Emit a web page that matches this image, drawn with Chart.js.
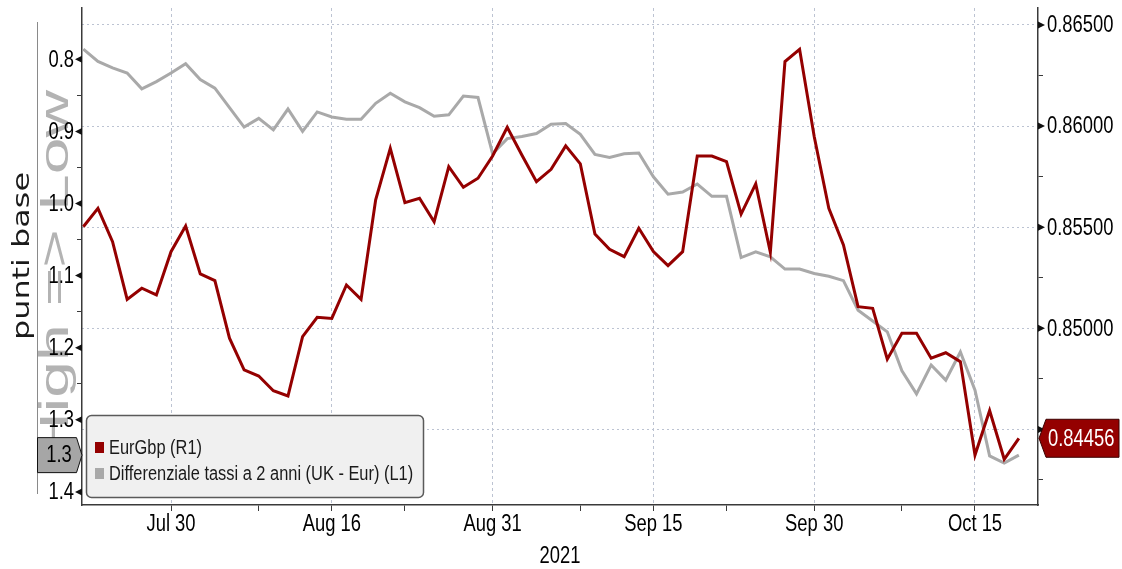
<!DOCTYPE html>
<html>
<head>
<meta charset="utf-8">
<script src="https://cdn.jsdelivr.net/npm/chart.js@4"></script>
<style>
  html, body { margin: 0; padding: 0; background: #fff; }
  #wrap { width: 1122px; height: 569px; }
</style>
</head>
<body>
<div id="wrap"><canvas id="chart" width="1122" height="569"></canvas></div>
<script>
// ── Data ─────────────────────────────────────────────────────────────────────
// business days, 22 Jul - 20 Oct 2021
const DATES = [
  "Jul 22","Jul 23","Jul 26","Jul 27","Jul 28","Jul 29","Jul 30",
  "Aug 2","Aug 3","Aug 4","Aug 5","Aug 6",
  "Aug 9","Aug 10","Aug 11","Aug 12","Aug 13",
  "Aug 16","Aug 17","Aug 18","Aug 19","Aug 20",
  "Aug 23","Aug 24","Aug 25","Aug 26","Aug 27",
  "Aug 30","Aug 31","Sep 1","Sep 2","Sep 3",
  "Sep 6","Sep 7","Sep 8","Sep 9","Sep 10",
  "Sep 13","Sep 14","Sep 15","Sep 16","Sep 17",
  "Sep 20","Sep 21","Sep 22","Sep 23","Sep 24",
  "Sep 27","Sep 28","Sep 29","Sep 30","Oct 1",
  "Oct 4","Oct 5","Oct 6","Oct 7","Oct 8",
  "Oct 11","Oct 12","Oct 13","Oct 14","Oct 15",
  "Oct 18","Oct 19","Oct 20"
];

const X_TICK_LABELS = ["Jul 30", "Aug 16", "Aug 31", "Sep 15", "Sep 30", "Oct 15"];
const X_MINOR_DAYS  = ["Aug 9", "Aug 23", "Sep 8", "Sep 22", "Oct 8"];
const YEAR_LABEL    = "2021";

// EurGbp (right axis)
const EURGBP = [
  0.85502, 0.85593, 0.85428, 0.85143, 0.85198, 0.85165, 0.85379,
  0.85506, 0.85269, 0.85236, 0.84951, 0.84794,
  0.84764, 0.84691, 0.84665, 0.84959, 0.85054,
  0.85049, 0.85214, 0.85143, 0.85635, 0.85890,
  0.85621, 0.85643, 0.85527, 0.85799, 0.85697,
  0.85742, 0.85852, 0.85994, 0.85857, 0.85725,
  0.85786, 0.85902, 0.85813, 0.85466, 0.85391,
  0.85354, 0.85495, 0.85379, 0.85310, 0.85379,
  0.85852, 0.85852, 0.85824, 0.85565, 0.85714,
  0.85376, 0.86319, 0.86380, 0.85948, 0.85593,
  0.85412, 0.85107, 0.85099, 0.84847, 0.84975,
  0.84975, 0.84852, 0.84879, 0.84835, 0.84373,
  0.84593, 0.84352, 0.84456
];

// 2y rate differential UK - Eur (left axis, inverted)
const SPREAD_2Y = [
  0.786, 0.803, 0.812, 0.819, 0.841, 0.831, 0.819,
  0.806, 0.828, 0.840, 0.867, 0.894,
  0.882, 0.898, 0.869, 0.900, 0.873,
  0.880, 0.883, 0.883, 0.861, 0.847,
  0.859, 0.867, 0.879, 0.877, 0.851,
  0.853, 0.931, 0.910, 0.907, 0.903,
  0.890, 0.889, 0.904, 0.932, 0.936,
  0.931, 0.930, 0.963, 0.987, 0.984,
  0.973, 0.990, 0.990, 1.075, 1.067,
  1.074, 1.091, 1.091, 1.097, 1.101,
  1.107, 1.148, 1.163, 1.178, 1.232,
  1.264, 1.224, 1.245, 1.206, 1.259,
  1.350, 1.360, 1.349
];

const L_TICKS = [0.8, 0.9, 1.0, 1.1, 1.2, 1.3, 1.4];
const L_MINOR = [0.85, 0.95, 1.05, 1.15, 1.25, 1.35];
const R_TICKS = [0.845, 0.850, 0.855, 0.860, 0.865];
const R_MINOR = [0.8425, 0.8475, 0.8525, 0.8575, 0.8625];

const L_TITLE   = "punti base";
const WATERMARK = "High => Low";

// ── Styles ───────────────────────────────────────────────────────────────────
const SANS = "'Liberation Sans', Arial, sans-serif";
const COLORS = {
  red:   "#940000",
  gray:  "#a9a9a9",
  grid:  "#bcc3d2",
  axis:  "#3a3a3a",
  text:  "#000000",
};

const isIn = (list, v) => list.some((t) => Math.abs(t - v) < 1e-9);
const dayIdx = (d) => DATES.indexOf(d);

// condensed text: draw normal sans squeezed horizontally
function narrowText(ctx, text, x, y, opts) {
  const o = Object.assign({ size: 23, squeeze: 0.8, align: "left", color: COLORS.text }, opts);
  ctx.save();
  ctx.font = o.size + "px " + SANS;
  ctx.fillStyle = o.color;
  ctx.textBaseline = "middle";
  ctx.textAlign = o.align;
  ctx.translate(x, y);
  ctx.scale(o.squeeze, 1);
  ctx.fillText(text, 0, 0);
  ctx.restore();
}

// rotated text stretched to a given length
function verticalText(ctx, text, cx, cy, font, color, length) {
  ctx.save();
  ctx.translate(cx, cy);
  ctx.rotate(-Math.PI / 2);
  ctx.font = font;
  ctx.fillStyle = color;
  ctx.textAlign = "center";
  ctx.textBaseline = "middle";
  ctx.scale(length / ctx.measureText(text).width, 1);
  ctx.fillText(text, 0, 0);
  ctx.restore();
}

// ── Extra drawing: labels, watermark, legend, last-value tags ───────────────
const decorations = {
  id: "decorations",
  beforeDraw(chart) {
    const ctx = chart.ctx;
    verticalText(ctx, WATERMARK, 57, 275, "40px " + SANS, "rgba(150,150,150,0.72)", 370);

    ctx.save();
    ctx.strokeStyle = "#8a8a8a";
    ctx.lineWidth = 1;
    ctx.beginPath();
    ctx.moveTo(37.5, 22);
    ctx.lineTo(37.5, 494);
    ctx.stroke();
    ctx.restore();
  },
  afterDraw(chart) {
    const ctx = chart.ctx;
    const { yL, yR, x } = chart.scales;
    const area = chart.chartArea;

    verticalText(ctx, L_TITLE, 23, 256, "23px 'DejaVu Sans', sans-serif", "#1a1a1a", 168);

    // tick labels
    L_TICKS.forEach((v) => narrowText(ctx, v.toFixed(1), area.left - 8, yL.getPixelForValue(v) + 1, { align: "right" }));
    R_TICKS.forEach((v) => narrowText(ctx, v.toFixed(5), area.right + 9, yR.getPixelForValue(v) + 1));
    X_TICK_LABELS.forEach((d) => narrowText(ctx, d, x.getPixelForValue(dayIdx(d)), 525, { align: "center" }));
    narrowText(ctx, YEAR_LABEL, (area.left + area.right) / 2, 557, { align: "center" });

    // arrow tick marks
    ctx.save();
    ctx.fillStyle = "#111";
    L_TICKS.forEach((v) => {
      const py = yL.getPixelForValue(v);
      ctx.beginPath();
      ctx.moveTo(area.left - 7, py);
      ctx.lineTo(area.left, py - 3.5);
      ctx.lineTo(area.left, py + 3.5);
      ctx.closePath();
      ctx.fill();
    });
    R_TICKS.forEach((v) => {
      const py = yR.getPixelForValue(v);
      ctx.beginPath();
      ctx.moveTo(area.right + 7, py);
      ctx.lineTo(area.right, py - 3.5);
      ctx.lineTo(area.right, py + 3.5);
      ctx.closePath();
      ctx.fill();
    });
    ctx.restore();

    // legend box
    const ds = chart.data.datasets;
    ctx.save();
    ctx.beginPath();
    ctx.roundRect(86.5, 415.5, 337, 82, 5);
    ctx.fillStyle = "#f0f0f0";
    ctx.fill();
    ctx.lineWidth = 1.5;
    ctx.strokeStyle = "#5a5a5a";
    ctx.stroke();
    ctx.restore();
    ds.forEach((d, i) => {
      const cy = 447 + i * 26;
      ctx.fillStyle = d.borderColor;
      ctx.fillRect(95, cy - 5, 9, 11);
      narrowText(ctx, d.label, 109, cy + 1, { size: 20, squeeze: 0.82, color: "#1a1a1a" });
    });

    // last value tag, right (EurGbp)
    const lastR = EURGBP[EURGBP.length - 1];
    const ry = yR.getPixelForValue(lastR);
    ctx.save();
    ctx.beginPath();
    ctx.moveTo(area.right + 1, ry);
    ctx.lineTo(area.right + 8, ry - 19);
    ctx.lineTo(1119, ry - 19);
    ctx.lineTo(1119, ry + 19);
    ctx.lineTo(area.right + 8, ry + 19);
    ctx.closePath();
    ctx.fillStyle = COLORS.red;
    ctx.fill();
    ctx.strokeStyle = "#3a0000";
    ctx.lineWidth = 1;
    ctx.stroke();
    ctx.restore();
    narrowText(ctx, lastR.toFixed(5), 1048, ry + 1, { color: "#fff" });

    // last value tag, left (spread)
    const lastL = SPREAD_2Y[SPREAD_2Y.length - 1];
    const ly = yL.getPixelForValue(lastL);
    ctx.save();
    ctx.beginPath();
    ctx.moveTo(37.5, ly - 17.5);
    ctx.lineTo(76.5, ly - 17.5);
    ctx.lineTo(area.left, ly);
    ctx.lineTo(76.5, ly + 17.5);
    ctx.lineTo(37.5, ly + 17.5);
    ctx.closePath();
    ctx.fillStyle = "#a6a6a6";
    ctx.fill();
    ctx.strokeStyle = "#111";
    ctx.lineWidth = 1;
    ctx.stroke();
    ctx.restore();
    narrowText(ctx, lastL.toFixed(1), 59, ly + 1, { align: "center" });
  },
};

// ── Chart ────────────────────────────────────────────────────────────────────
new Chart(document.getElementById("chart"), {
  type: "line",
  data: {
    datasets: [
      {
        label:       "EurGbp (R1)",
        data:        EURGBP.map((v, i) => ({ x: i, y: v })),
        yAxisID:     "yR",
        borderColor: COLORS.red,
        borderWidth: 3,
        pointRadius: 0,
        tension:     0,
      },
      {
        label:       "Differenziale tassi a 2 anni (UK - Eur) (L1)",
        data:        SPREAD_2Y.map((v, i) => ({ x: i, y: v })),
        yAxisID:     "yL",
        borderColor: COLORS.gray,
        borderWidth: 3,
        pointRadius: 0,
        tension:     0,
      },
    ],
  },
  options: {
    responsive: false,
    animation:  false,
    devicePixelRatio: 1,
    layout: { padding: { top: 8, left: 0, right: 0, bottom: 0 } },
    plugins: {
      legend:  { display: false },
      tooltip: { enabled: false },
    },
    scales: {
      x: {
        type: "linear",
        min: -0.09,
        max: 65.31,
        afterBuildTicks: (s) => {
          s.ticks = X_TICK_LABELS.concat(X_MINOR_DAYS).map((d) => ({ value: dayIdx(d) }));
        },
        ticks: { display: false },
        grid: {
          color: (c) => (c.tick && X_TICK_LABELS.includes(DATES[c.tick.value]) ? COLORS.grid : "transparent"),
          tickColor: COLORS.axis,
          tickLength: 6,
          lineWidth: 1,
        },
        border: { color: COLORS.axis, width: 1.5, dash: [3, 3] },
        afterFit: (s) => { s.height = 64; s.paddingLeft = 0; s.paddingRight = 0; },
      },
      yL: {
        position: "left",
        reverse: true,
        min: 0.72885,
        max: 1.41817,
        afterBuildTicks: (s) => {
          s.ticks = L_TICKS.concat(L_MINOR).sort((a, b) => a - b).map((v) => ({ value: v }));
        },
        ticks: { display: false },
        grid: { drawOnChartArea: false, tickLength: 5, tickColor: COLORS.axis },
        border: { color: COLORS.axis, width: 1.5 },
        afterFit: (s) => { s.width = 82; s.paddingTop = 0; s.paddingBottom = 0; },
      },
      yR: {
        position: "right",
        min: 0.84126,
        max: 0.86584,
        afterBuildTicks: (s) => {
          s.ticks = R_TICKS.concat(R_MINOR).sort((a, b) => a - b).map((v) => ({ value: v }));
        },
        ticks: { display: false },
        grid: {
          color: (c) => (c.tick && isIn(R_TICKS, c.tick.value) ? COLORS.grid : "transparent"),
          tickColor: COLORS.axis,
          tickLength: 5,
          lineWidth: 1,
        },
        border: { color: COLORS.axis, width: 1.5, dash: [2, 3] },
        afterFit: (s) => { s.width = 84; s.paddingTop = 0; s.paddingBottom = 0; },
      },
    },
  },
  plugins: [decorations],
});
</script>
</body>
</html>
